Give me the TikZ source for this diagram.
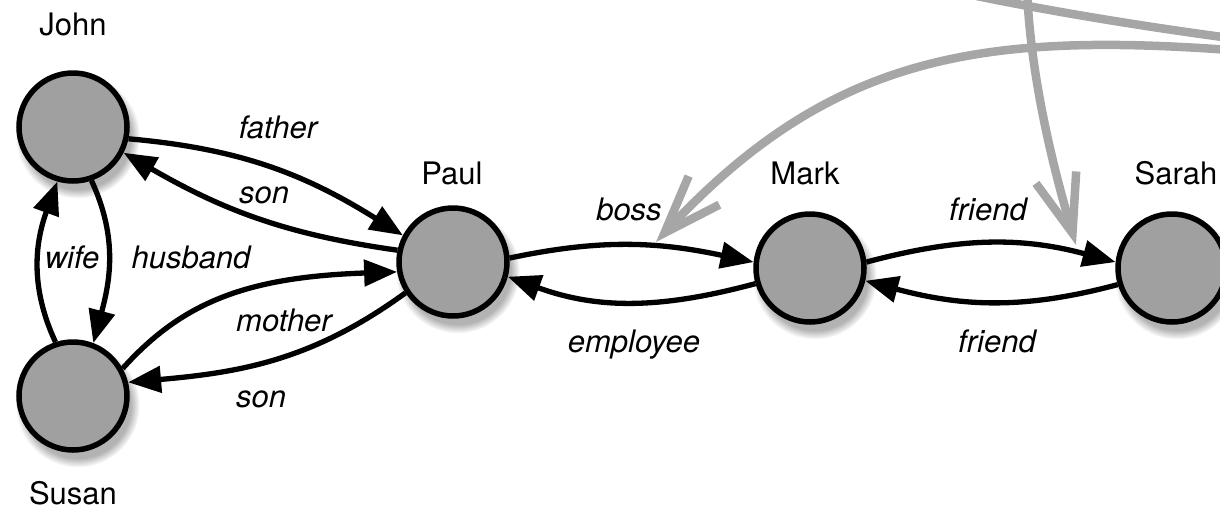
\documentclass[tikz,border=0pt]{standalone}
\usepackage{fontspec}
\setmainfont{TeX Gyre Heros}
\usetikzlibrary{arrows.meta,shadows}
\definecolor{nodefill}{HTML}{A0A0A0}
\definecolor{linkgray}{HTML}{A6A6A6}
\begin{document}
\begin{tikzpicture}[x=1pt,y=1pt,
  person/.style={circle,draw=black,line width=5.5pt,fill=nodefill,
    minimum size=108pt,inner sep=0pt,
    circular drop shadow={shadow xshift=4pt,shadow yshift=-8pt,
      shadow scale=1.15,opacity=0.6}},
  personlabel/.style={font=\fontsize{31}{36}\selectfont,anchor=base,inner sep=0pt},
  rellabel/.style={font=\fontsize{31}{36}\selectfont\itshape,anchor=base,inner sep=0pt},
  link/.style={line width=5.3pt,-{Triangle[length=33pt,width=26pt]}},
  outer/.style={line width=8.5pt,draw=linkgray,
    -{Straight Barb[length=58pt,width=42pt]}}]

\useasboundingbox (0,0) rectangle (1220,-515);
\clip (0,0) rectangle (1220,-515);

% people
\node[person] (John)  at (73,-127) {};
\node[person] (Susan) at (73,-396) {};
\node[person] (Paul)  at (453,-262) {};
\node[person] (Mark)  at (810,-268) {};
\node[person] (Sarah) at (1172,-268) {};

% names
\node[personlabel] (nJohn)  at (73,-35)   {John};
\node[personlabel] (nSusan) at (73,-504)  {Susan};
\node[personlabel] (nPaul)  at (452,-184) {Paul};
\node[personlabel] (nMark)  at (805,-184) {Mark};
\node[personlabel] (nSarah) at (1176,-184) {Sarah};

% links coming in from beyond the frame
\coordinate (farA) at (1230,-50);
\coordinate (farB) at (1027,10);
\coordinate (farC) at (930,14);
\coordinate (farD) at (1260,-42);
\coordinate (bossTip) at (656,-242);
\coordinate (friendTip) at (1076,-245);

\draw[outer] (farA) .. controls (980,-32) and (830,-55) .. (bossTip);
\draw[outer] (farB) .. controls (1030,-60) and (1045,-140) .. (friendTip);
\draw[outer,-] (farC) .. controls (1010,-4) and (1120,-24) .. (farD);

% relations
\draw[link] (John.-12) to[out=-5,in=148] (Paul.152);
\draw[link] (Paul.168) to[out=172,in=-30] (John.-27);
\draw[link] (John.-71) to[out=-65,in=75] (Susan.69);
\draw[link] (Susan.108) to[out=115,in=-110] (John.-106);
\draw[link] (Susan.29) .. controls +(48:90) and +(182:150) .. (Paul.190);
\draw[link] (Paul.213) to[out=216,in=5] (Susan.14);
\draw[link] (Paul.4) to[out=12,in=168] (Mark.174);
\draw[link] (Mark.196) to[out=195,in=-20] (Paul.-15);
\draw[link] (Mark.6) to[out=15,in=165] (Sarah.174);
\draw[link] (Sarah.197) to[out=195,in=-15] (Mark.-13);

% relation labels
\node[rellabel] (lFather)   at (278,-138) {father};
\node[rellabel] (lSon1)     at (264,-203) {son};
\node[rellabel] (lWife)     at (72,-268)  {wife};
\node[rellabel] (lHusband)  at (191,-268) {husband};
\node[rellabel] (lMother)   at (284,-331) {mother};
\node[rellabel] (lSon2)     at (261,-407) {son};
\node[rellabel] (lBoss)     at (629,-220) {boss};
\node[rellabel] (lEmployee) at (634,-352) {employee};
\node[rellabel] (lFriend1)  at (988,-220) {friend};
\node[rellabel] (lFriend2)  at (997,-352) {friend};
\end{tikzpicture}
\end{document}
